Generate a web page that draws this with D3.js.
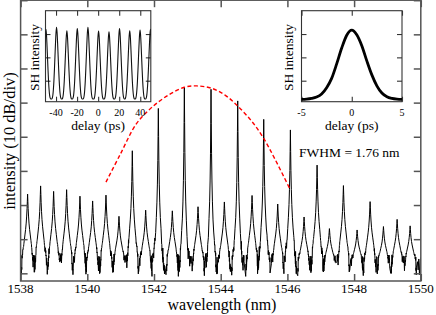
<!DOCTYPE html>
<html>
<head>
<meta charset="utf-8">
<script src="https://cdn.jsdelivr.net/npm/d3@7"></script>
<style>
  body { margin: 0; background: #fff; }
  svg { display: block; font-family: "Liberation Serif", "Times New Roman", serif; }
</style>
</head>
<body>
<svg id="chart" width="436" height="315" font-family="Liberation Serif, Times New Roman, serif"></svg>
<script>
// ---- main spectrum: comb lines (nm, dB) ----
const peakWl = [1538.21, 1538.60, 1538.99, 1539.38, 1539.78, 1540.16, 1540.56, 1540.95,
    1541.35, 1541.75, 1542.13, 1542.55, 1542.91, 1543.32, 1543.71, 1544.11, 1544.51,
    1544.94, 1545.29, 1545.71, 1546.09, 1546.50, 1546.89, 1547.26, 1547.68, 1548.09,
    1548.48, 1548.88, 1549.29, 1549.68];
const peakDb = [-56.8, -54.4, -56.0, -55.5, -57.4, -58.8, -57.1, -63.3,
    -44.1, -61.5, -31.7, -61.7, -25.5, -60.5, -26.1, -59.1, -29.5,
    -57.2, -34.9, -59.7, -38.0, -63.5, -48.3, -66.9, -54.3, -67.3,
    -59.0, -66.3, -64.2, -66.1];
const floorDb = -77.3;
// line shape of one comb line, as fraction of its height above the floor
const profileOffset = [0, 0.008, 0.016, 0.028, 0.042, 0.06, 0.08, 0.1, 0.105, 0.11, 0.115, 0.12, 0.125,
    0.13, 0.135, 0.14, 0.145, 0.15, 0.155, 0.16, 0.165, 0.17, 0.175, 0.18, 0.185, 0.19];
const profileTall = [1, 0.8, 0.63, 0.47, 0.35, 0.25, 0.17, 0.11, 0.097, 0.085, 0.072, 0.06, 0.052,
    0.045, 0.037, 0.03, 0.025, 0.02, 0.015, 0.01, 0.007, 0.005, 0.002, 0, 0, 0];
const profileShort = [1, 0.9, 0.8, 0.69, 0.59, 0.5, 0.42, 0.34, 0.32, 0.3, 0.28, 0.26, 0.24,
    0.22, 0.2, 0.18, 0.155, 0.13, 0.11, 0.09, 0.07, 0.05, 0.035, 0.02, 0.01, 0];
// noise on the floor (dB)
const floorNoise = [1.2, -2.1, 0.4, -3.0, 1.8, -0.6, -2.6, 2.2, -1.4, 0.3, -3.4, 1.0, -0.9, 2.5,
    -2.2, 0.7, -1.7, 1.5, -3.1, 0.1, 2.0, -1.2, -2.8, 0.9, -0.4, 1.6, -2.4, 0.5, -3.6, 1.3,
    -1.0, 2.3, -1.9, 0.2, -2.7, 1.1, -0.7];

// red dashed envelope
const envWl = [1540.56, 1540.98, 1541.48, 1541.98, 1542.48, 1542.91, 1543.28, 1543.73, 1544.13, 1544.51, 1544.94, 1545.29, 1545.64, 1546.09];
const envDb = [-53.3, -45.3, -36.1, -31.0, -27.5, -25.5, -25.1, -25.8, -27.8, -31.0, -35.6, -40.5, -46.8, -55.6];

// ---- inset 1: autocorrelation over the pulse train ----
const trainDelay = [-49.6, -39.5, -29.7, -19.8, -9.7, 0.4, 10.3, 20.3, 30.0, 39.8, 49.7];
const trainPeak = [3.2, 3.29, 3.14, 3.24, 3.29, 3.13, 3.10, 3.24, 3.14, 3.17, 3.2];
const trainBase = 0.2;
const trainOffset = [0, 0.5, 1, 1.5, 2, 2.5, 3, 3.5, 4, 4.5];
const trainShape = [1, 0.93, 0.78, 0.6, 0.42, 0.26, 0.14, 0.06, 0.02, 0.005];

// ---- inset 2: single pulse autocorrelation ----
const acDelay = [-5, -4.5, -4, -3.5, -3, -2.5, -2, -1.5, -1, -0.5, 0, 0.5, 1, 1.5, 2, 2.5, 3, 3.5, 4, 4.5, 5];
const acValue = [0.2, 0.21, 0.24, 0.3, 0.43, 0.7, 1.1, 1.72, 2.4, 2.95, 3.17, 2.97, 2.5, 1.85, 1.25, 0.78, 0.47, 0.31, 0.24, 0.21, 0.2];

const xTicks = [1538, 1540, 1542, 1544, 1546, 1548, 1550];
const yTicks = [-80, -70, -60, -50, -40, -30, -20, -10, 0];

const svg = d3.select("#chart");
const frameColor = "#555";

const x = d3.scaleLinear().domain([1538, 1550]).range([20.6, 420.8]);
const y = d3.scaleLinear().domain([-82.25, 0]).range([281, 0.2]);

// build the trace from the line shape of every comb line
const trace = [];
let n = 0;
peakWl.forEach(function(wl, i) {
    const range = peakDb[i] - floorDb;
    const t = Math.max(0, Math.min(1, (range - 20) / 32));
    profileOffset.forEach(function(off, j) {
        const frac = profileShort[j] * (1 - t) + profileTall[j] * t;
        const w = frac < 0.3 ? 1 - frac / 0.3 : 0;
        [-1, 1].forEach(function(side) {
            if (off === 0 && side === 1) return;
            const noise = floorNoise[n++ % floorNoise.length] * w;
            trace.push([wl + side * off, floorDb + range * frac + noise]);
        });
    });
});
[1538.0, 1538.005, 1549.9, 1549.92, 1549.94, 1549.96, 1549.98, 1550].forEach(function(wl) {
    trace.push([wl, floorDb + floorNoise[n++ % floorNoise.length]]);
});
trace.sort(function(a, b) { return a[0] - b[0]; });

svg.append("clipPath").attr("id", "mainclip")
    .append("rect").attr("x", 20.6).attr("y", 0.2).attr("width", 400.2).attr("height", 280.8);

svg.append("path")
    .datum(trace)
    .attr("clip-path", "url(#mainclip)")
    .attr("fill", "none")
    .attr("stroke", "#000")
    .attr("stroke-width", 1)
    .attr("d", d3.line().x(d => x(d[0])).y(d => y(d[1])));

svg.append("path")
    .datum(envWl.map((w, i) => [w, envDb[i]]))
    .attr("fill", "none")
    .attr("stroke", "#f00")
    .attr("stroke-width", 1.4)
    .attr("stroke-dasharray", "4,2.5")
    .attr("d", d3.line().curve(d3.curveCatmullRom).x(d => x(d[0])).y(d => y(d[1])));

// frame with mirrored inward ticks
function frame(g, sx, sy, xt, yt, len, color, width) {
    const [x0, x1] = sx.range();
    const [y0, y1] = sy.range();
    g.append("g").call(d3.axisBottom(sx).tickValues(xt).tickSize(-len).tickFormat(""))
        .attr("transform", `translate(0,${y0})`);
    g.append("g").call(d3.axisTop(sx).tickValues(xt).tickSize(-len).tickFormat(""))
        .attr("transform", `translate(0,${y1})`);
    g.append("g").call(d3.axisLeft(sy).tickValues(yt).tickSize(-len).tickFormat(""))
        .attr("transform", `translate(${x0},0)`);
    g.append("g").call(d3.axisRight(sy).tickValues(yt).tickSize(-len).tickFormat(""))
        .attr("transform", `translate(${x1},0)`);
    g.selectAll(".domain").remove();
    g.selectAll(".tick line").attr("stroke", color).attr("stroke-width", width);
    g.append("rect")
        .attr("x", x0).attr("y", y1)
        .attr("width", x1 - x0).attr("height", y0 - y1)
        .attr("fill", "none").attr("stroke", color).attr("stroke-width", width);
}

frame(svg.append("g"), x, y, xTicks, yTicks, 7, frameColor, 1.5);

svg.append("g").selectAll("text")
    .data(xTicks).enter().append("text")
    .attr("x", d => x(d)).attr("y", 292.8)
    .attr("text-anchor", "middle")
    .attr("font-size", 13)
    .text(d => d);

svg.append("text")
    .attr("x", 222).attr("y", 310)
    .attr("text-anchor", "middle")
    .attr("font-size", 16)
    .text("wavelength (nm)");

svg.append("text")
    .attr("transform", "translate(14.5,141) rotate(-90)")
    .attr("text-anchor", "middle")
    .attr("font-size", 16.5)
    .text("intensity (10 dB/div)");

svg.append("text")
    .attr("x", 299).attr("y", 156.7)
    .attr("font-size", 13.5)
    .text("FWHM = 1.76 nm");

// ---- insets ----
function inset(x0, x1, domain, ticks, labelX, id) {
    const sx = d3.scaleLinear().domain(domain).range([x0, x1]);
    const sy = d3.scaleLinear().domain([0.1, 4]).range([101.7, 10.7]);
    const g = svg.append("g");
    g.append("rect").attr("x", x0).attr("y", 10.7).attr("width", x1 - x0).attr("height", 91)
        .attr("fill", "#fff");
    g.append("clipPath").attr("id", id)
        .append("rect").attr("x", x0).attr("y", 10.7).attr("width", x1 - x0).attr("height", 91);
    frame(g, sx, sy, ticks, [1, 2, 3], 5, "#333", 1.1);
    g.append("g").selectAll("text")
        .data(ticks).enter().append("text")
        .attr("x", d => sx(d)).attr("y", 115.5)
        .attr("text-anchor", "middle")
        .attr("font-size", 10)
        .text(d => String(d).replace("\u2212", "-"));
    g.append("text")
        .attr("x", (x0 + x1) / 2).attr("y", 129.7)
        .attr("text-anchor", "middle")
        .attr("font-size", 13.5)
        .text("delay (ps)");
    g.append("text")
        .attr("transform", `translate(${labelX},57.5) rotate(-90)`)
        .attr("text-anchor", "middle")
        .attr("font-size", 13.5)
        .text("SH intensity");
    return { g, sx, sy };
}

const in1 = inset(45.5, 150.8, [-50, 50], [-40, -20, 0, 20, 40], 39, "clip1");
const train = [];
trainDelay.forEach(function(d, i) {
    trainOffset.forEach(function(off, j) {
        const v = trainBase + (trainPeak[i] - trainBase) * trainShape[j];
        train.push([d - off, v]);
        if (off > 0) train.push([d + off, v]);
    });
});
train.sort((a, b) => a[0] - b[0]);
in1.g.append("path")
    .datum(train)
    .attr("clip-path", "url(#clip1)")
    .attr("fill", "none")
    .attr("stroke", "#111")
    .attr("stroke-width", 1.1)
    .attr("d", d3.line().curve(d3.curveMonotoneX).x(d => in1.sx(d[0])).y(d => in1.sy(d[1])));

const in2 = inset(301.5, 402, [-5, 5], [-5, 0, 5], 293, "clip2");
in2.g.append("path")
    .datum(acDelay.map((d, i) => [d, acValue[i]]))
    .attr("fill", "none")
    .attr("stroke", "#000")
    .attr("stroke-width", 2.8)
    .attr("d", d3.line().curve(d3.curveMonotoneX).x(d => in2.sx(d[0])).y(d => in2.sy(d[1])));
</script>
</body>
</html>
